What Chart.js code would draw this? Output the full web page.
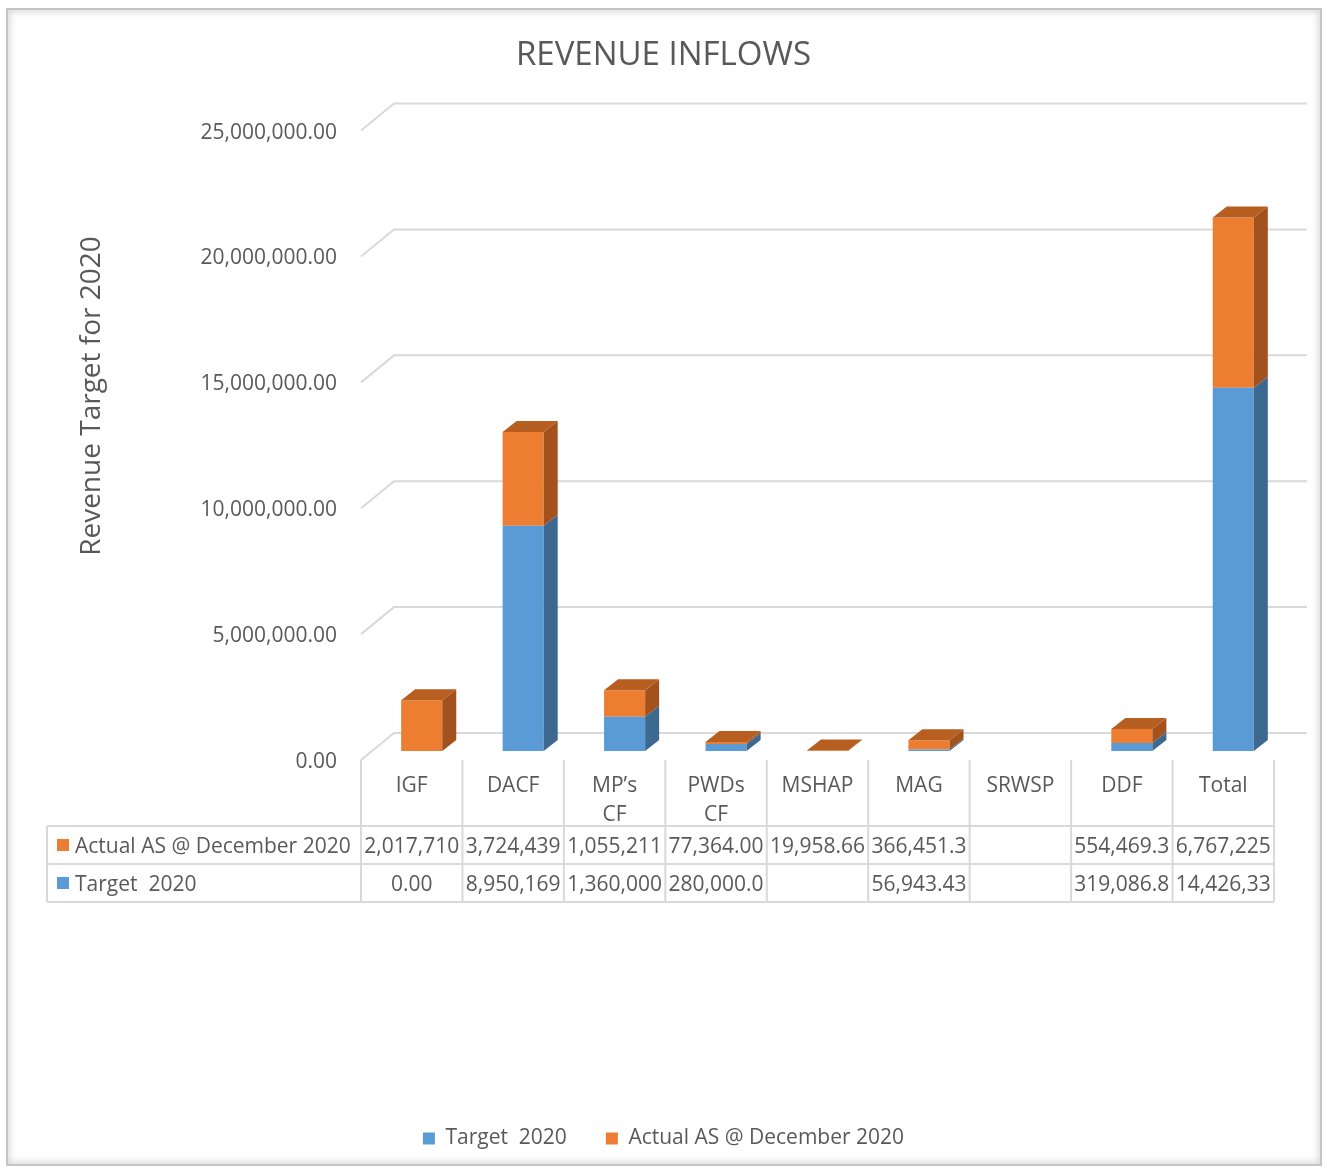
<!DOCTYPE html>
<html>
<head>
<meta charset="utf-8">
<script src="https://cdn.jsdelivr.net/npm/chart.js@4"></script>
<style>
html,body{margin:0;padding:0;background:#fff;}
#wrap{position:relative;width:1327px;height:1169px;overflow:hidden;}
#frame{position:absolute;left:6px;top:8px;width:1312px;height:1154px;border:2px solid #c4c4c4;box-shadow:inset 0 0 7px 2px rgba(0,0,0,0.15);pointer-events:none;}
</style>
</head>
<body>
<div id="wrap"><canvas id="c" width="1327" height="1169"></canvas><div id="frame"></div></div>
<script>
// ---- data ----
const categories = ['IGF', 'DACF', ['MP’s', 'CF'], ['PWDs', 'CF'], 'MSHAP', 'MAG', 'SRWSP', 'DDF', 'Total'];
const targetName = 'Target  2020';
const actualName = 'Actual AS @ December 2020';
const targetValues = [0, 8950169, 1360000, 280000, null, 56943.43, null, 319086.8, 14426330];
const actualValues = [2017710, 3724439, 1055211, 77364, 19958.66, 366451.3, null, 554469.3, 6767225];
const yMin = 0, yMax = 25000000, yStep = 5000000;
const chartTitle = 'REVENUE INFLOWS';
const yTitle = 'Revenue Target for 2020';

// ---- styling ----
const FONT = 'Open Sans';
const TXT = '#595959';
const GRID = '#d9d9d9';
const BLUE = '#5b9bd5', BLUE_SIDE = '#3d6991', BLUE_TOP = '#4a80b3';
const ORANGE = '#ed7d31', ORANGE_SIDE = '#a3521d', ORANGE_TOP = '#b75e21';
const DX = 14, DY = -11;      // bar depth
const FRONT = 9;              // front plane below bar front
const WALL_DX = 33, WALL_DY = -27; // back wall offset from front plane
const SHIFT = 10;             // bars shifted right of the front plane columns

const fmt = v => Number(v).toLocaleString('en-US', {minimumFractionDigits: 2, maximumFractionDigits: 2});
const cellText = v => (v === null || v === undefined) ? '' : fmt(v).slice(0, 9);

const three = {
  id: 'three',
  beforeDatasetsDraw(chart) {
    const {ctx, chartArea: a, scales: {y}} = chart;
    ctx.save();
    ctx.strokeStyle = GRID; ctx.lineWidth = 2;
    const fx = a.left - SHIFT, bx0 = fx + WALL_DX, bx1 = a.right - SHIFT + WALL_DX;
    y.ticks.forEach(t => {
      const py = y.getPixelForValue(t.value) + FRONT;
      ctx.beginPath();
      ctx.moveTo(fx, py);
      ctx.lineTo(bx0, py + WALL_DY);
      ctx.lineTo(bx1, py + WALL_DY);
      ctx.stroke();
    });
    ctx.restore();
  },
  afterDatasetsDraw(chart) {
    const {ctx} = chart;
    const sides = [BLUE_SIDE, ORANGE_SIDE], tops = [BLUE_TOP, ORANGE_TOP];
    ctx.save();
    categories.forEach((c, i) => {
      let topDs = -1;
      chart.data.datasets.forEach((ds, d) => { if (ds.data[i]) topDs = d; });
      chart.data.datasets.forEach((ds, d) => {
        if (!ds.data[i]) return;
        const el = chart.getDatasetMeta(d).data[i];
        const {x, y, base, width} = el.getProps(['x', 'y', 'base', 'width'], true);
        const l = x - width / 2, r = x + width / 2;
        ctx.fillStyle = sides[d];
        ctx.beginPath();
        ctx.moveTo(r, y); ctx.lineTo(r + DX, y + DY); ctx.lineTo(r + DX, base + DY); ctx.lineTo(r, base);
        ctx.closePath(); ctx.fill();
        if (d === topDs) {
          ctx.fillStyle = tops[d];
          ctx.beginPath();
          ctx.moveTo(l, y); ctx.lineTo(l + DX, y + DY); ctx.lineTo(r + DX, y + DY); ctx.lineTo(r, y);
          ctx.closePath(); ctx.fill();
        }
      });
    });
    ctx.restore();
  },
  afterDraw(chart) {
    const {ctx, chartArea: a, scales: {y}} = chart;
    const n = categories.length;
    const colW = (a.right - a.left) / n;
    const tl = a.left - SHIFT, tr = a.right - SHIFT;
    const yh = y.getPixelForValue(0) + FRONT;
    const r0 = yh + 66, r1 = r0 + 38, r2 = r1 + 38;
    const leftX = 47;
    ctx.save();
    ctx.strokeStyle = GRID; ctx.lineWidth = 2;
    ctx.beginPath();
    for (let k = 0; k <= n; k++) {
      const px = tl + k * colW;
      ctx.moveTo(px, yh); ctx.lineTo(px, r2);
    }
    [r0, r1, r2].forEach(ry => { ctx.moveTo(leftX, ry); ctx.lineTo(tr, ry); });
    ctx.moveTo(leftX, r0); ctx.lineTo(leftX, r2);
    ctx.stroke();

    const rows = [
      {name: actualName, color: ORANGE, vals: actualValues},
      {name: targetName, color: BLUE, vals: targetValues}
    ];
    ctx.font = '21px "' + FONT + '"';
    ctx.textBaseline = 'middle';
    rows.forEach((row, ri) => {
      const cy = (ri === 0 ? (r0 + r1) : (r1 + r2)) / 2;
      ctx.fillStyle = row.color;
      ctx.fillRect(57, cy - 6, 12, 12);
      ctx.fillStyle = TXT;
      ctx.textAlign = 'left';
      ctx.fillText(row.name, 75, cy + 2);
      ctx.textAlign = 'center';
      row.vals.forEach((v, i) => {
        ctx.fillText(cellText(v), tl + (i + 0.5) * colW, cy + 2);
      });
    });

    // y axis title
    ctx.translate(92, 396);
    ctx.rotate(-Math.PI / 2);
    ctx.font = '28px "' + FONT + '"';
    ctx.textAlign = 'center';
    ctx.fillStyle = TXT;
    ctx.fillText(yTitle, 0, 0);
    ctx.restore();
  }
};

new Chart(document.getElementById('c'), {
  type: 'bar',
  data: {
    labels: categories,
    datasets: [
      {label: targetName, data: targetValues, backgroundColor: BLUE, stack: 's'},
      {label: actualName, data: actualValues, backgroundColor: ORANGE, stack: 's'}
    ]
  },
  options: {
    responsive: false,
    animation: false,
    layout: {padding: {left: 0, right: 0, top: 0, bottom: 10}},
    datasets: {bar: {categoryPercentage: 1, barPercentage: 0.405, borderWidth: 0}},
    scales: {
      x: {
        stacked: true,
        grid: {display: false}, border: {display: false},
        ticks: {font: {family: FONT, size: 21, lineHeight: 1.4}, color: TXT, padding: 12, labelOffset: -SHIFT, maxRotation: 0, autoSkip: false},
        afterFit(s) { s.height = 338; }
      },
      y: {
        stacked: true, min: yMin, max: yMax,
        grid: {display: false}, border: {display: false},
        ticks: {stepSize: yStep, padding: 26, labelOffset: FRONT + 2, font: {family: FONT, size: 21}, color: TXT, callback: v => fmt(v)},
        afterFit(s) { s.width = 371; }
      },
      y2: {
        position: 'right',
        grid: {display: false}, border: {display: false},
        ticks: {display: false},
        afterFit(s) { s.width = 43; }
      }
    },
    plugins: {
      title: {display: true, text: chartTitle, color: TXT, font: {family: FONT, size: 33, weight: 'normal'}, padding: {top: 36, bottom: 46}},
      legend: {position: 'bottom', labels: {boxWidth: 12, boxHeight: 12, padding: 39, color: TXT, font: {family: FONT, size: 21}}},
      tooltip: {enabled: false}
    }
  },
  plugins: [three]
});
</script>
</body>
</html>
